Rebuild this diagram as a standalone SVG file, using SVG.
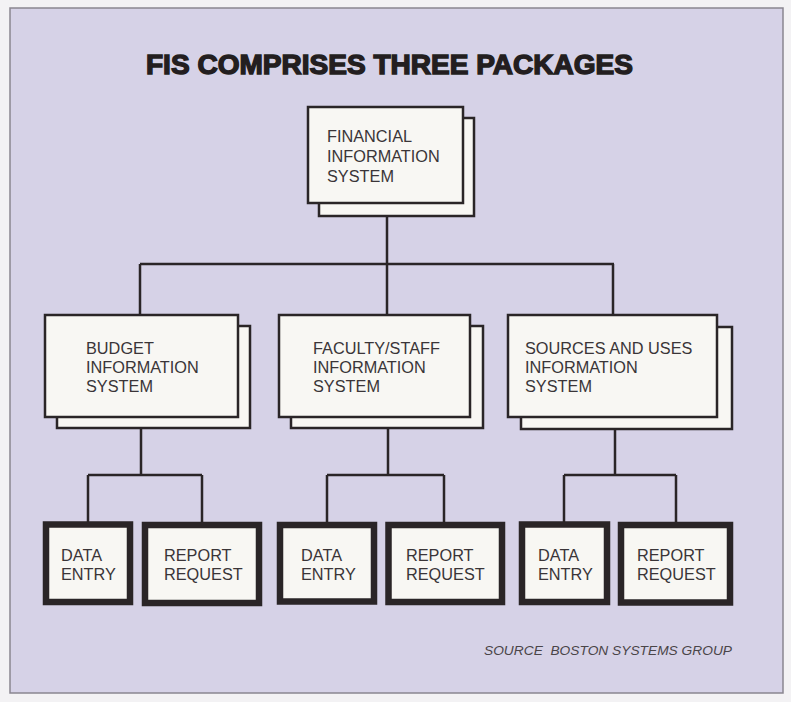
<svg xmlns="http://www.w3.org/2000/svg" width="791" height="702" viewBox="0 0 791 702">
<style>
.bg{fill:#d6d2e7;stroke:#8a8690;stroke-width:1.5}
.front{fill:#f8f7f3;stroke:#2a2527;stroke-width:2.5}
.shadow{fill:#f8f7f3;stroke:#2a2527;stroke-width:2.5}
.leaf{fill:#f8f7f3;stroke:#2a2527;stroke-width:6.5}
.lbl{font-family:"Liberation Sans",Arial,sans-serif;font-size:16.3px;fill:#3a3538}
.title{font-family:"Liberation Sans",Arial,sans-serif;font-size:27px;font-weight:bold;fill:#231e20;stroke:#231e20;stroke-width:1.4}
.src{font-family:"Liberation Sans",Arial,sans-serif;font-size:12.5px;font-style:italic;fill:#4a4548}
.conn{fill:none;stroke:#2a2527;stroke-width:2.5}
</style>
<rect x="0" y="0" width="791" height="702" fill="#f3f2f4"/>
<rect class="bg" x="10" y="8" width="773" height="685"/>
<text class="title" x="146" y="74" textLength="487" lengthAdjust="spacingAndGlyphs">FIS COMPRISES THREE PACKAGES</text>

<g id="connectors">
<path class="conn" d="M387 204V264M140 264H614M140 264V315M387 264V315M613 264V315"/>
<path class="conn" d="M141 428V475M88 475H202M88 475V522M202 475V522"/>
<path class="conn" d="M388 428V475M327 475H444M327 475V522M444 475V522"/>
<path class="conn" d="M615 428V475M564 475H676M564 475V522M676 475V522"/>
</g>

<g id="fis">
<rect class="shadow" x="319" y="118" width="155" height="98"/>
<rect class="front" x="308" y="107" width="155" height="96"/>
<text class="lbl" x="327" y="142">FINANCIAL</text>
<text class="lbl" x="327" y="162">INFORMATION</text>
<text class="lbl" x="327" y="182">SYSTEM</text>
</g>

<g id="budget">
<rect class="shadow" x="57" y="326" width="193" height="102"/>
<rect class="front" x="45" y="315" width="193" height="102"/>
<text class="lbl" x="86" y="354">BUDGET</text>
<text class="lbl" x="86" y="373">INFORMATION</text>
<text class="lbl" x="86" y="392">SYSTEM</text>
</g>

<g id="faculty">
<rect class="shadow" x="291" y="326" width="192" height="102"/>
<rect class="front" x="279" y="315" width="191" height="102"/>
<text class="lbl" x="313" y="354">FACULTY/STAFF</text>
<text class="lbl" x="313" y="373">INFORMATION</text>
<text class="lbl" x="313" y="392">SYSTEM</text>
</g>

<g id="sources">
<rect class="shadow" x="521" y="327" width="211" height="102"/>
<rect class="front" x="508" y="315" width="209" height="102"/>
<text class="lbl" x="525" y="354">SOURCES AND USES</text>
<text class="lbl" x="525" y="373">INFORMATION</text>
<text class="lbl" x="525" y="392">SYSTEM</text>
</g>

<g id="budget-data">
<rect class="leaf" x="46" y="524.5" width="84" height="77.5"/>
<text class="lbl" x="61" y="561">DATA</text>
<text class="lbl" x="61" y="580">ENTRY</text>
</g>
<g id="budget-report">
<rect class="leaf" x="145" y="525" width="114" height="78"/>
<text class="lbl" x="164" y="561">REPORT</text>
<text class="lbl" x="164" y="580">REQUEST</text>
</g>

<g id="faculty-data">
<rect class="leaf" x="280" y="525" width="94" height="76.5"/>
<text class="lbl" x="301" y="561">DATA</text>
<text class="lbl" x="301" y="580">ENTRY</text>
</g>
<g id="faculty-report">
<rect class="leaf" x="388.5" y="525" width="113.5" height="77"/>
<text class="lbl" x="406" y="561">REPORT</text>
<text class="lbl" x="406" y="580">REQUEST</text>
</g>

<g id="sources-data">
<rect class="leaf" x="522" y="524.5" width="85" height="77.5"/>
<text class="lbl" x="538" y="561">DATA</text>
<text class="lbl" x="538" y="580">ENTRY</text>
</g>
<g id="sources-report">
<rect class="leaf" x="621" y="525" width="109" height="77.5"/>
<text class="lbl" x="637" y="561">REPORT</text>
<text class="lbl" x="637" y="580">REQUEST</text>
</g>

<text class="src" x="484" y="655" textLength="248" lengthAdjust="spacingAndGlyphs" xml:space="preserve">SOURCE  BOSTON SYSTEMS GROUP</text>
</svg>
